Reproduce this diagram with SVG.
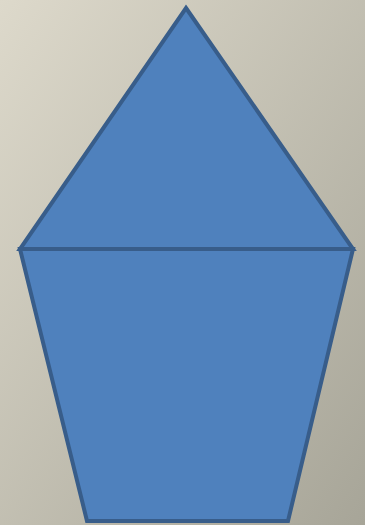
<svg xmlns="http://www.w3.org/2000/svg" width="365" height="525" viewBox="0 0 365 525">
<defs>
<linearGradient id="bg" x1="0" y1="0" x2="1" y2="1">
<stop offset="0" stop-color="#ddd9cb"/>
<stop offset="1" stop-color="#a7a598"/>
</linearGradient>
<style>.sh{fill:#4f81bd;stroke:#385d8a;stroke-width:4;stroke-linejoin:miter}</style>
</defs>
<rect width="365" height="525" fill="url(#bg)"/>
<g id="trapezoid"><polygon class="sh" points="20,249 353,249 288,521 87,521"/></g>
<g id="triangle"><polygon class="sh" points="186,8 353,249 20,249"/></g>
</svg>
